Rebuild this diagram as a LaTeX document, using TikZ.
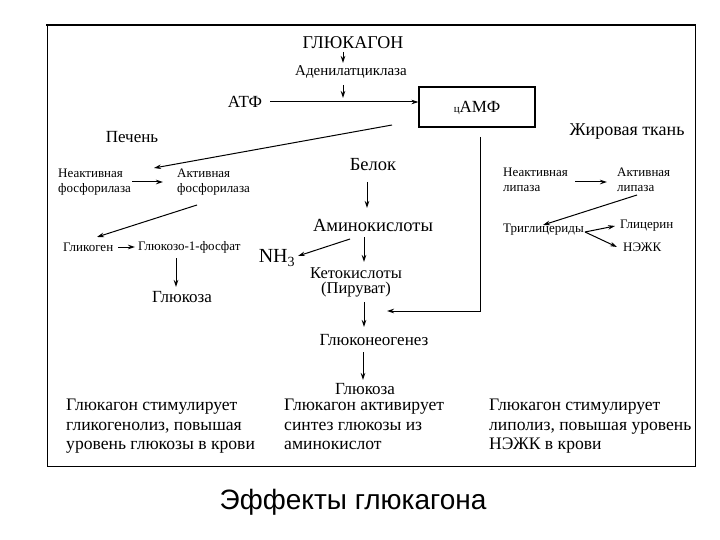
\documentclass[tikz,border=0pt]{standalone}
\usepackage{fontspec}
\setmainfont{Liberation Serif}
\newfontfamily\capfont{Liberation Sans}
\usetikzlibrary{arrows.meta}
\begin{document}
\begin{tikzpicture}[x=1pt,y=-1pt,
  txt/.style={inner sep=0pt, font=\fontsize{15}{15}\selectfont},
  lbl/.style={inner sep=0pt, font=\fontsize{17}{17}\selectfont},
  mid/.style={inner sep=0pt, font=\fontsize{18.5}{18.5}\selectfont},
  small/.style={inner sep=0pt, align=left, font=\fontsize{13}{15}\selectfont},
  big/.style={inner sep=0pt, align=left, font=\fontsize{17.6}{19.5}\selectfont},
  arr/.style={-{Stealth[length=7pt,width=4.5pt]}, line width=1pt},
  frame/.style={line width=1pt},
]
\useasboundingbox (0,0) rectangle (720,540);
\draw[frame] (47,25) rectangle (695,466);
\draw[line width=2pt] (46,25) -- (696,25);

% top
\node[inner sep=0pt, font=\fontsize{18}{18}\selectfont] (glc) at (353,43) {ГЛЮКАГОН};
\node[txt] (adc) at (351,72) {Аденилатциклаза};
\node[lbl] (atf) at (245,102) {АТФ};
\node[draw, line width=1.2pt, minimum width=116pt, minimum height=40pt, inner sep=0pt] (camp) at (477,107) {};
\node[lbl] (camptxt) at (477,108) {{\fontsize{11}{11}\selectfont ц}АМФ};
\coordinate (a1s) at (343,52);
\coordinate (a1e) at (343,63);
\coordinate (a2s) at (343,85);
\coordinate (a2e) at (343,98);
\draw[arr] (a1s) -- (a1e);
\draw[arr] (a2s) -- (a2e);
\draw[arr, shorten <=8pt] (atf.east) -- (atf.east -| camp.west);

% cAMP outputs
\coordinate (c1) at (480,137);
\coordinate (c2) at (387,311);
\draw[arr] (c1) |- (c2);
\coordinate (c3) at (392,125);
\coordinate (c4) at (154,168);
\draw[arr] (c3) -- (c4);

% liver
\node[lbl] (liver) at (132,137) {Печень};
\node[small, anchor=west] (inph) at (58,182) {Неактивная\\фосфорилаза};
\node[small, anchor=west] (acph) at (177,182) {Активная\\фосфорилаза};
\draw[arr, shorten <=1pt, shorten >=14pt] (inph.east) -- (acph.west);
\coordinate (p1) at (197,205);
\coordinate (p2) at (97,237);
\draw[arr] (p1) -- (p2);
\node[small, anchor=west] (glycogen) at (63,247) {Гликоген};
\node[small, anchor=west] (g1p) at (138,247) {Глюкозо-1-фосфат};
\draw[arr, shorten <=5pt, shorten >=3pt] (glycogen.east) -- (g1p.west);
\coordinate (p3) at (176,258);
\coordinate (p4) at (176,287);
\draw[arr] (p3) -- (p4);
\node[lbl] (glcL) at (182,297) {Глюкоза};

% center
\node[mid] (prot) at (373,165) {Белок};
\node[mid] (aa) at (373,225) {Аминокислоты};
\node[inner sep=0pt, font=\fontsize{20}{20}\selectfont] (nh3) at (277,258) {NH$_{\mathrm{3}}$};
\node[inner sep=0pt, align=center, font=\fontsize{16.5}{15}\selectfont] (keto) at (356,282) {Кетокислоты\\(Пируват)};
\node[lbl] (gng) at (374,340) {Глюконеогенез};
\node[lbl] (glcC) at (365,389) {Глюкоза};
\coordinate (m1) at (367,182);
\coordinate (m2) at (367,208);
\draw[arr] (m1) -- (m2);
\coordinate (m3) at (364,237);
\coordinate (m4) at (364,262);
\draw[arr] (m3) -- (m4);
\coordinate (m5) at (350,239);
\coordinate (m6) at (298,256);
\draw[arr] (m5) -- (m6);
\coordinate (m7) at (364,302);
\coordinate (m8) at (364,327);
\draw[arr] (m7) -- (m8);
\coordinate (m9) at (363,352);
\coordinate (m10) at (363,380);
\draw[arr] (m9) -- (m10);

% adipose
\node[inner sep=0pt, font=\fontsize{18}{18}\selectfont] (fat) at (627,132) {Жировая ткань};
\node[small, anchor=west] (inlip) at (503,180) {Неактивная\\липаза};
\node[small, anchor=west] (aclip) at (617,180) {Активная\\липаза};
\coordinate (f1) at (575,182);
\coordinate (f2) at (607,182);
\draw[arr] (f1) -- (f2);
\coordinate (f3) at (637,195);
\coordinate (f4) at (543,225);
\draw[arr] (f3) -- (f4);
\node[small, anchor=west] (tg) at (503,230) {Триглицериды};
\node[small, anchor=west] (glyc) at (620,226) {Глицерин};
\node[small, anchor=west] (nefa) at (623,247) {НЭЖК};
\coordinate (f5) at (585,232);
\coordinate (f6) at (615,226);
\coordinate (f7) at (617,247);
\draw[arr] (f5) -- (f6);
\draw[arr] (f5) -- (f7);

% bottom texts
\node[big, anchor=north west] (t1) at (66,399) {Глюкагон стимулирует\\гликогенолиз, повышая\\уровень глюкозы в крови};
\node[big, anchor=north west] (t2) at (284,399) {Глюкагон активирует\\синтез глюкозы из\\аминокислот};
\node[big, anchor=north west] (t3) at (489,399) {Глюкагон стимулирует\\липолиз, повышая уровень\\НЭЖК в крови};

\node[inner sep=0pt, font=\capfont\fontsize{28}{30}\selectfont] (cap) at (353,502) {Эффекты глюкагона};
\end{tikzpicture}
\end{document}
